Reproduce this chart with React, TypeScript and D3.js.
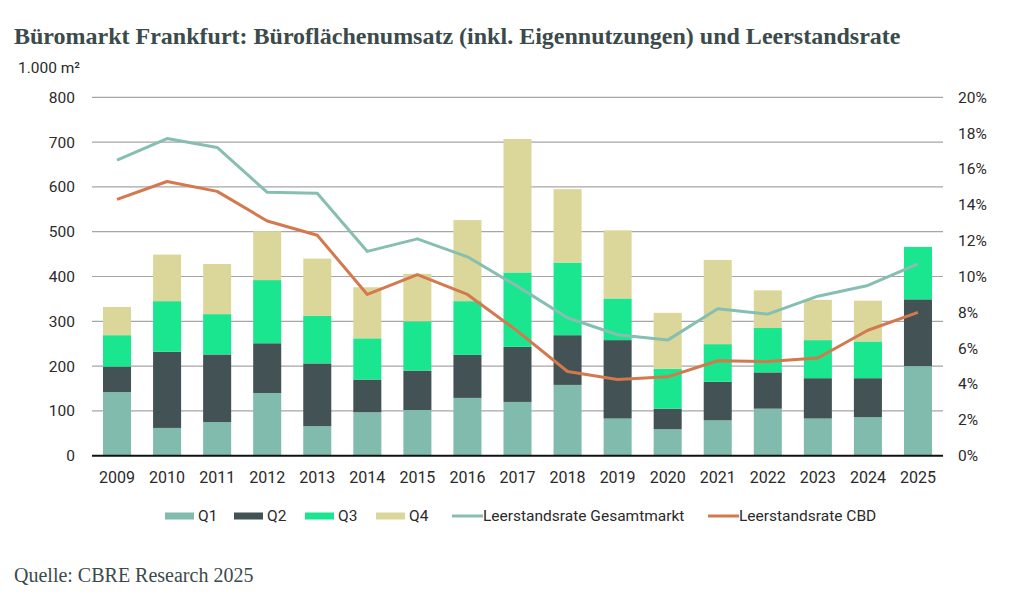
import * as d3 from 'd3';
import React, { useRef, useEffect } from 'react';

// Büroflächenumsatz je Quartal (1.000 m²)
const years = ['2009', '2010', '2011', '2012', '2013', '2014', '2015', '2016', '2017', '2018', '2019', '2020', '2021', '2022', '2023', '2024', '2025'];
const q1 = [142, 62, 75, 140, 66, 97, 102, 129, 120, 158, 83, 59, 79, 105, 83, 86, 200];
const q2 = [57, 170, 151, 111, 140, 73, 88, 96, 123, 111, 175, 46, 86, 81, 90, 87, 149];
const q3 = [70, 113, 90, 141, 106, 92, 110, 120, 166, 162, 93, 89, 84, 99, 85, 82, 117];
const q4 = [63, 104, 112, 109, 128, 114, 106, 181, 298, 164, 152, 125, 188, 84, 90, 91, 0];

// Leerstandsraten in %
const rateTotal = [16.5, 17.7, 17.2, 14.7, 14.65, 11.4, 12.1, 11.1, 9.45, 7.7, 6.75, 6.45, 8.2, 7.9, 8.9, 9.5, 10.7];
const rateCBD = [14.3, 15.3, 14.75, 13.1, 12.3, 9.0, 10.1, 9.0, 6.95, 4.7, 4.25, 4.4, 5.3, 5.25, 5.45, 7.0, 8.0];

const leftTicks = [0, 100, 200, 300, 400, 500, 600, 700, 800];
const rightTicks = [0, 2, 4, 6, 8, 10, 12, 14, 16, 18, 20];

const quarterKeys = ['Q1', 'Q2', 'Q3', 'Q4'];
const quarterColors = ['#80bbad', '#435254', '#19e68e', '#dbd79b'];
const lineColors = ['#86bfb1', '#d4784e'];

const W = 1015;
const H = 603;
const margin = { top: 97.3, right: 72, bottom: 147.3, left: 92 };

const App = () => {
  const ref = useRef(null);

  useEffect(() => {
    const svg = d3.select(ref.current);
    svg.selectAll('*').remove();

    const x = d3.scaleBand()
      .domain(years)
      .range([margin.left, W - margin.right])
      .paddingInner(0.44)
      .paddingOuter(0.22);
    const y = d3.scaleLinear().domain([0, 800]).range([H - margin.bottom, margin.top]);
    const yr = d3.scaleLinear().domain([0, 20]).range([H - margin.bottom, margin.top]);

    const tickFont = 'Roboto, sans-serif';
    const textColor = '#2a2a2a';

    // title + source
    svg.append('text')
      .attr('x', 14).attr('y', 44)
      .attr('font-family', '"Liberation Serif", "Times New Roman", serif')
      .attr('font-weight', 'bold')
      .attr('font-size', 24)
      .attr('fill', '#3b4a4a')
      .text('Büromarkt Frankfurt: Büroflächenumsatz (inkl. Eigennutzungen) und Leerstandsrate');

    svg.append('text')
      .attr('x', 14).attr('y', 582)
      .attr('font-family', '"Liberation Serif", "Times New Roman", serif')
      .attr('font-size', 20)
      .attr('fill', '#3b4a4a')
      .text('Quelle: CBRE Research 2025');

    svg.append('text')
      .attr('x', 18).attr('y', 68)
      .attr('dy', '0.35em')
      .attr('font-family', tickFont)
      .attr('font-size', 15.5)
      .attr('fill', textColor)
      .text('1.000 m²');

    // gridlines
    svg.append('g')
      .selectAll('line')
      .data(leftTicks.slice(1))
      .join('line')
      .attr('x1', margin.left).attr('x2', W - margin.right)
      .attr('y1', (d) => y(d)).attr('y2', (d) => y(d))
      .attr('stroke', '#a6a6a6')
      .attr('stroke-width', 1.2);

    // left axis labels
    svg.append('g')
      .selectAll('text')
      .data(leftTicks)
      .join('text')
      .attr('x', 75).attr('y', (d) => y(d))
      .attr('dy', '0.35em')
      .attr('text-anchor', 'end')
      .attr('font-family', tickFont)
      .attr('font-size', 15.5)
      .attr('fill', textColor)
      .text((d) => d);

    // right axis labels
    svg.append('g')
      .selectAll('text')
      .data(rightTicks)
      .join('text')
      .attr('x', 958).attr('y', (d) => yr(d))
      .attr('dy', '0.35em')
      .attr('font-family', tickFont)
      .attr('font-size', 15.5)
      .attr('fill', textColor)
      .text((d) => d + '%');

    // stacked bars
    const table = years.map((yr_, i) => ({ year: yr_, Q1: q1[i], Q2: q2[i], Q3: q3[i], Q4: q4[i] }));
    const stacked = d3.stack().keys(quarterKeys)(table);

    svg.append('g')
      .selectAll('g')
      .data(stacked)
      .join('g')
      .attr('fill', (d, i) => quarterColors[i])
      .selectAll('rect')
      .data((d) => d)
      .join('rect')
      .attr('x', (d) => x(d.data.year))
      .attr('width', x.bandwidth())
      .attr('y', (d) => y(d[1]))
      .attr('height', (d) => y(d[0]) - y(d[1]));

    // zero line
    svg.append('line')
      .attr('x1', margin.left).attr('x2', W - margin.right)
      .attr('y1', y(0)).attr('y2', y(0))
      .attr('stroke', '#111')
      .attr('stroke-width', 2);

    // x axis labels
    svg.append('g')
      .selectAll('text')
      .data(years)
      .join('text')
      .attr('x', (d) => x(d) + x.bandwidth() / 2)
      .attr('y', 477)
      .attr('dy', '0.35em')
      .attr('text-anchor', 'middle')
      .attr('font-family', tickFont)
      .attr('font-size', 16)
      .attr('fill', textColor)
      .text((d) => d);

    // vacancy lines
    const line = d3.line()
      .x((d, i) => x(years[i]) + x.bandwidth() / 2)
      .y((d) => yr(d));

    [rateTotal, rateCBD].forEach((series, i) => {
      svg.append('path')
        .datum(series)
        .attr('fill', 'none')
        .attr('stroke', lineColors[i])
        .attr('stroke-width', 3)
        .attr('stroke-linejoin', 'round')
        .attr('d', line);
    });

    // legend
    const legendY = 516;
    const legend = [
      { label: 'Q1', color: quarterColors[0], type: 'rect', x: 165 },
      { label: 'Q2', color: quarterColors[1], type: 'rect', x: 234 },
      { label: 'Q3', color: quarterColors[2], type: 'rect', x: 305 },
      { label: 'Q4', color: quarterColors[3], type: 'rect', x: 376 },
      { label: 'Leerstandsrate Gesamtmarkt', color: lineColors[0], type: 'line', x: 452 },
      { label: 'Leerstandsrate CBD', color: lineColors[1], type: 'line', x: 708 },
    ];
    const lg = svg.append('g');
    legend.forEach((item) => {
      if (item.type === 'rect') {
        lg.append('rect')
          .attr('x', item.x).attr('y', legendY - 3.5)
          .attr('width', 29).attr('height', 7)
          .attr('fill', item.color);
      } else {
        lg.append('line')
          .attr('x1', item.x).attr('x2', item.x + 31)
          .attr('y1', legendY).attr('y2', legendY)
          .attr('stroke', item.color)
          .attr('stroke-width', 3);
      }
      lg.append('text')
        .attr('x', item.x + (item.type === 'rect' ? 33 : 31))
        .attr('y', legendY)
        .attr('dy', '0.35em')
        .attr('font-family', tickFont)
        .attr('font-size', 15.5)
        .attr('fill', textColor)
        .text(item.label);
    });
  }, []);

  return (
    <svg
      ref={ref}
      width={W}
      height={H}
      style={{ position: 'absolute', left: 0, top: 0, background: '#fff' }}
    ></svg>
  );
};

export default App;
